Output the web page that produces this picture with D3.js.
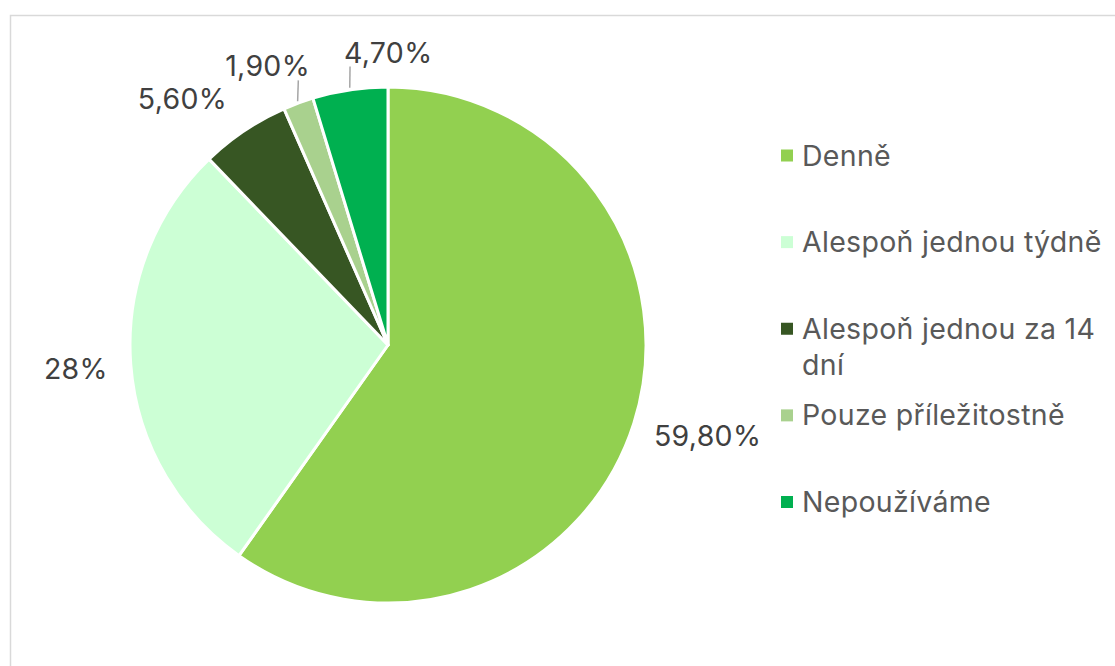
<!DOCTYPE html>
<html>
<head>
<meta charset="utf-8">
<script src="https://cdn.jsdelivr.net/npm/d3@7"></script>
<style>
  html, body { margin: 0; padding: 0; background: #fff; }
  text { font-family: Inter, "Noto Sans", sans-serif; }
</style>
</head>
<body>
<div id="graph"></div>
<script>
WIDTH = 1115;
HEIGHT = 666;

// data
var categories = ["Denně", "Alespoň jednou týdně", "Alespoň jednou za 14 dní", "Pouze příležitostně", "Nepoužíváme"];
var values = [59.8, 28, 5.6, 1.9, 4.7];
var valueLabels = ["59,80%", "28%", "5,60%", "1,90%", "4,70%"];
var colors = ["#92d050", "#ccffd5", "#375623", "#a9d18e", "#00b050"];

// label layout (radius from centre, angle shift in degrees, leader line)
var labelRadius = [332, 313, 321, 304, 293];
var labelShift = [-1.9, 0, -6, -3, 8.5];
var leader = [false, false, false, true, true];

var cx = 388, cy = 345, R = 258;
var FONT = 28.5;

var svg = d3.select("#graph").append("svg").attr("width", WIDTH).attr("height", HEIGHT);

// frame
svg.append("rect")
  .attr("x", 10.5).attr("y", 15.5)
  .attr("width", WIDTH + 20).attr("height", HEIGHT + 20)
  .attr("fill", "none").attr("stroke", "#d9d9d9").attr("stroke-width", 1.5);

var pie = d3.pie().sort(null).value(function(d) { return d; });
var arcs = pie(values);
var arc = d3.arc().innerRadius(0).outerRadius(R);

var pieg = svg.append("g").attr("transform", "translate(" + cx + "," + cy + ")");
pieg.selectAll("path")
  .data(arcs)
  .enter()
  .append("path")
  .attr("d", arc)
  .attr("fill", function(d, i) { return colors[i]; })
  .attr("stroke", "#fff")
  .attr("stroke-width", 3)
  .attr("stroke-linejoin", "round");

// percentage labels
var labg = pieg.append("g");
arcs.forEach(function(d, i) {
  var mid = (d.startAngle + d.endAngle) / 2;
  var a = mid + labelShift[i] * Math.PI / 180;
  var x = labelRadius[i] * Math.sin(a);
  var y = -labelRadius[i] * Math.cos(a);
  var t = labg.append("text")
    .attr("x", x).attr("y", y + 10.5)
    .attr("text-anchor", "middle")
    .attr("font-size", FONT)
    .attr("letter-spacing", 0.3)
    .attr("fill", "#404040")
    .text(valueLabels[i]);
  if (leader[i]) {
    var bb = t.node().getBBox();
    var ex = R * Math.sin(mid);
    var sx = (R + 2) * Math.sin(mid), sy = -(R + 2) * Math.cos(mid);
    var lx = Math.max(bb.x - 4, Math.min(bb.x + bb.width, ex));
    var ly = bb.y + bb.height - 3;
    labg.append("line")
      .attr("x1", sx).attr("y1", sy)
      .attr("x2", lx).attr("y2", ly)
      .attr("stroke", "#a6a6a6").attr("stroke-width", 1.5);
  }
});

// legend
var ly = d3.scalePoint().domain(categories).range([155.5, 502]);
var legend = svg.append("g");
var maxW = 318;
categories.forEach(function(c, i) {
  var y = ly(c);
  legend.append("rect")
    .attr("x", 781).attr("y", y - 6)
    .attr("width", 12).attr("height", 12)
    .attr("fill", colors[i]);
  var t = legend.append("text")
    .attr("x", 802).attr("y", y + 10)
    .attr("font-size", FONT)
    .attr("letter-spacing", 0.3)
    .attr("fill", "#595959");
  // wrap words
  var words = c.split(" ");
  var line = [];
  var tspan = t.append("tspan").attr("x", 802);
  words.forEach(function(w) {
    line.push(w);
    tspan.text(line.join(" "));
    if (tspan.node().getComputedTextLength() > maxW && line.length > 1) {
      line.pop();
      tspan.text(line.join(" "));
      line = [w];
      tspan = t.append("tspan").attr("x", 802).attr("dy", 36).text(w);
    }
  });
});
</script>
</body>
</html>
